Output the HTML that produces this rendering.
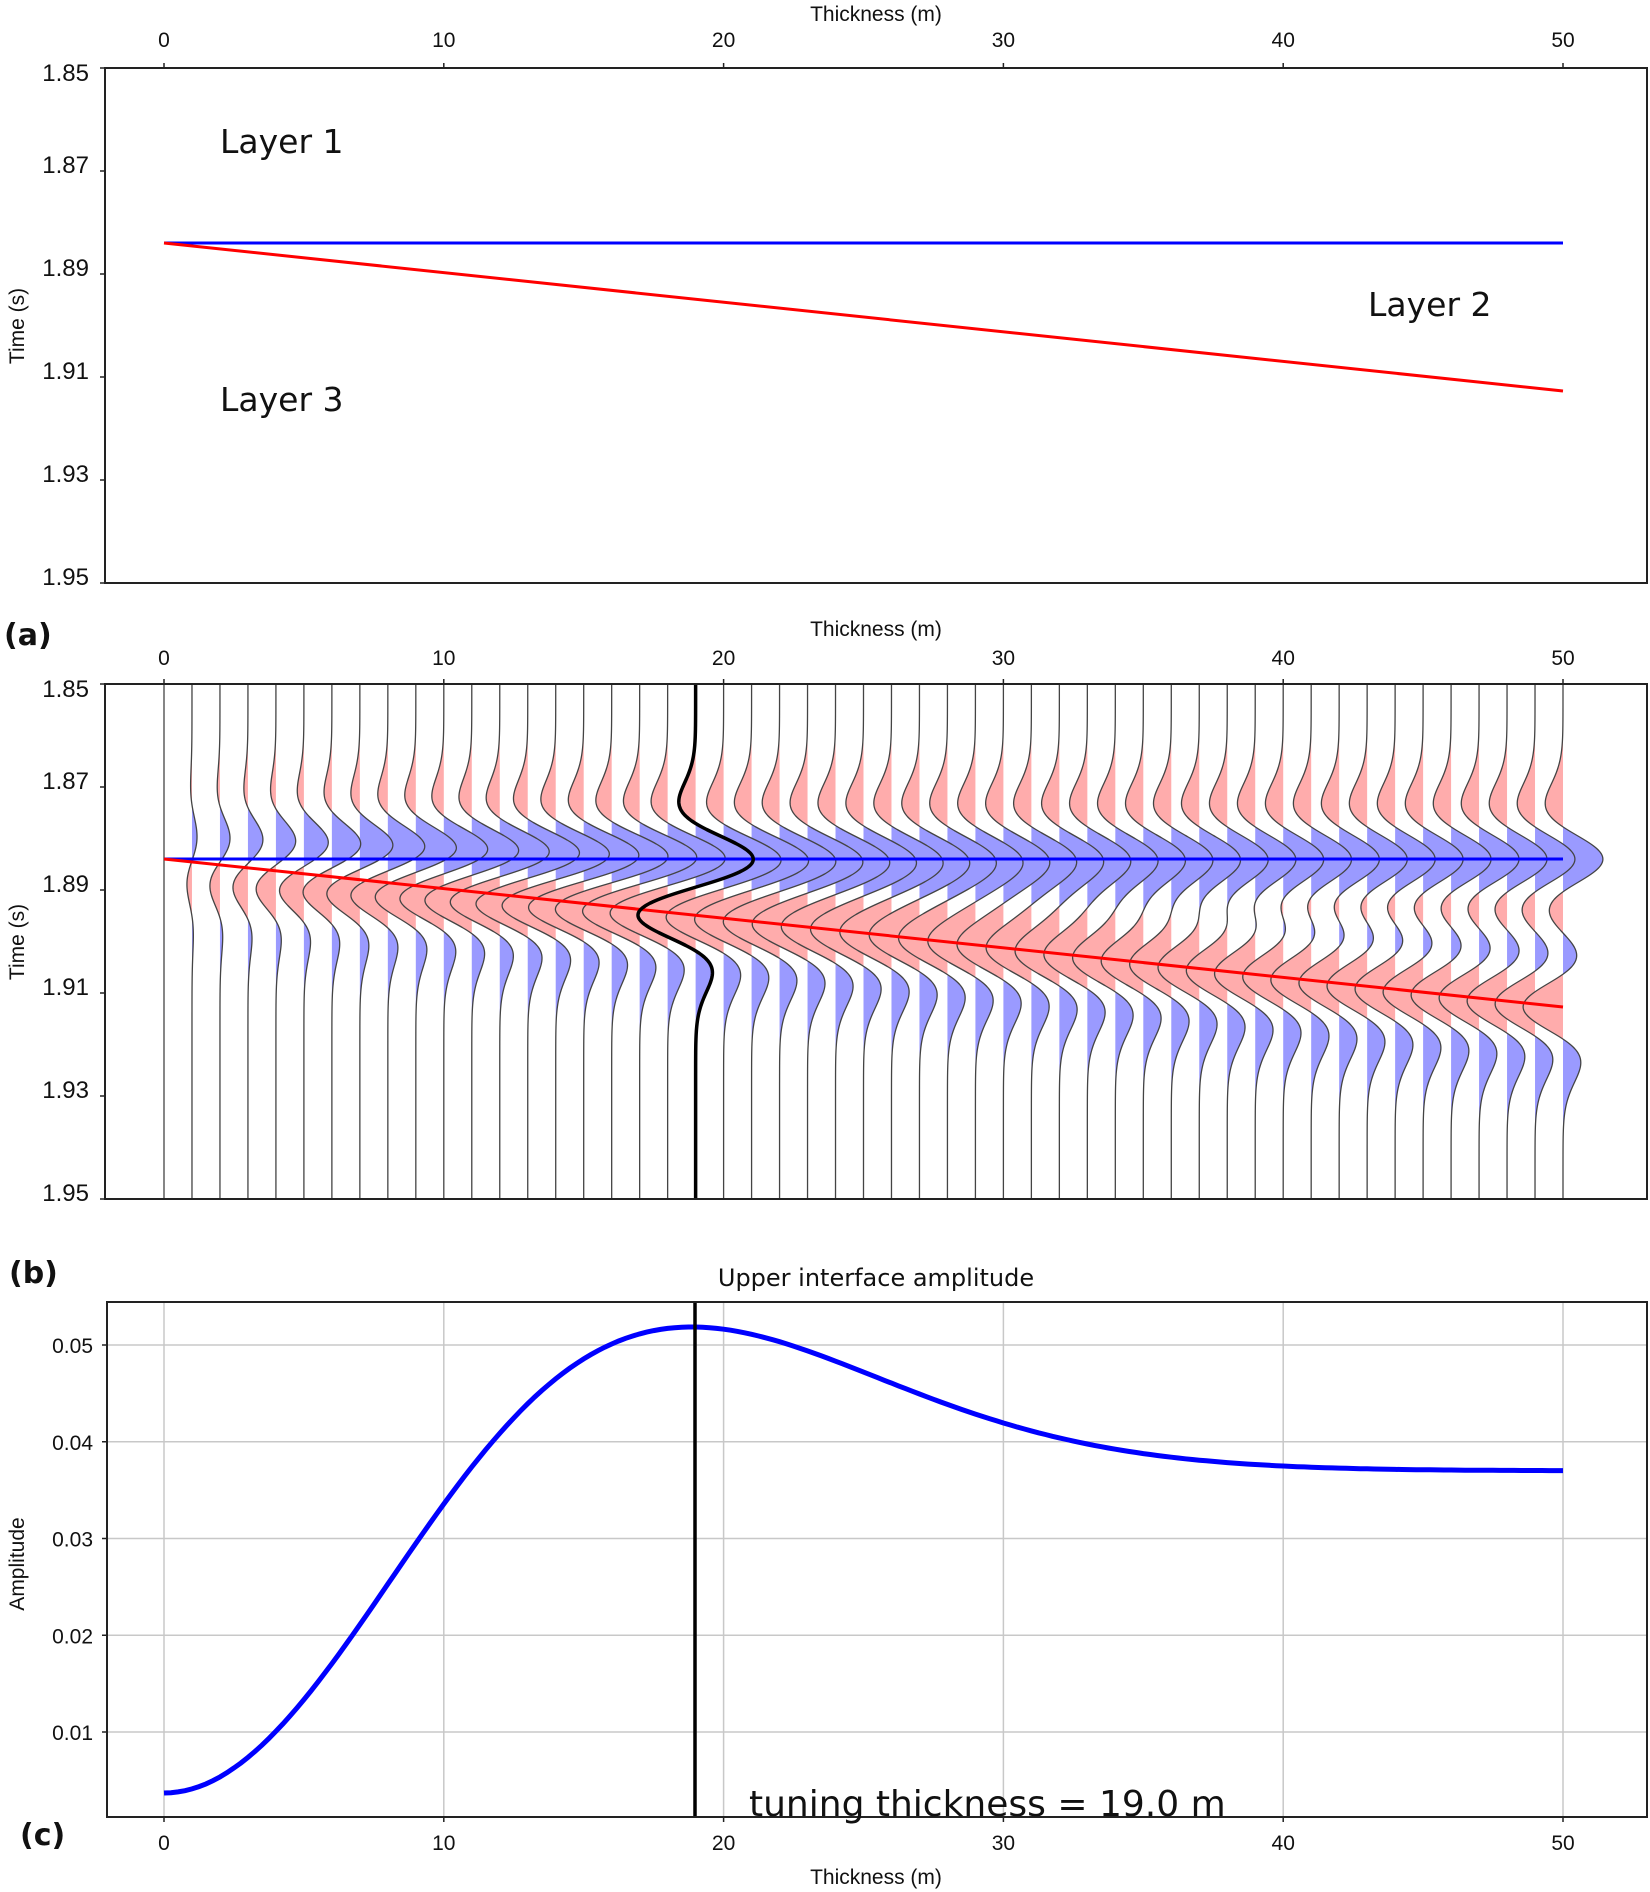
<!DOCTYPE html>
<html><head><meta charset="utf-8">
<style>
html,body{margin:0;padding:0;background:#fff;}
svg{display:block;font-family:"Liberation Sans","DejaVu Sans",sans-serif;}
.t{font-size:21px;fill:#111;}
.yl{font-size:24px;fill:#111;}
.b{font-family:"DejaVu Sans",sans-serif;font-weight:bold;font-size:30px;fill:#111;}
</style></head>
<body>
<svg id="s" width="1650" height="1892" viewBox="0 0 1650 1892" xmlns="http://www.w3.org/2000/svg">
<rect width="1650" height="1892" fill="#fff"/>
<g id="pa">
<text class="t" x="876" y="21" text-anchor="middle">Thickness (m)</text>
<rect x="105" y="68" width="1542" height="515" fill="none" stroke="#222" stroke-width="2"/>
<line x1="164" y1="243" x2="1563" y2="243" stroke="#0000ff" stroke-width="3"/>
<line x1="164" y1="243" x2="1563" y2="391" stroke="#ff0000" stroke-width="3"/>
<text x="220" y="153" style="font-family:'DejaVu Sans',sans-serif;font-size:33px" fill="#111">Layer 1</text>
<text x="1368" y="316" style="font-family:'DejaVu Sans',sans-serif;font-size:33px" fill="#111">Layer 2</text>
<text x="220" y="411" style="font-family:'DejaVu Sans',sans-serif;font-size:33px" fill="#111">Layer 3</text>
<text class="t" transform="translate(24,326) rotate(-90)" text-anchor="middle">Time (s)</text>
</g>
<text class="b" x="4" y="645">(a)</text>
<g id="pb">
<text class="t" x="876" y="636" text-anchor="middle">Thickness (m)</text>
<g id="fills"></g>
<g id="lines"></g>
<line x1="164" y1="859" x2="1563" y2="859" stroke="#0000ff" stroke-width="3"/>
<line x1="164" y1="859" x2="1563" y2="1007" stroke="#ff0000" stroke-width="3"/>
<g id="tune"></g>
<rect x="105" y="684" width="1542" height="515" fill="none" stroke="#222" stroke-width="2"/>
<text class="t" transform="translate(24,942) rotate(-90)" text-anchor="middle">Time (s)</text>
</g>
<text class="b" x="9" y="1283">(b)</text>
<g id="pc">
<text x="876" y="1286" text-anchor="middle" style="font-family:'DejaVu Sans',sans-serif;font-size:24px" fill="#111">Upper interface amplitude</text>
<g id="grid"></g>
<path id="amp" fill="none" stroke="#0000ff" stroke-width="5"/>
<line x1="695" y1="1302" x2="695" y2="1817" stroke="#000" stroke-width="3.5"/>
<rect x="107" y="1302" width="1540" height="515" fill="none" stroke="#222" stroke-width="2"/>
<text x="749" y="1816" style="font-family:'DejaVu Sans',sans-serif;font-size:36px" fill="#111">tuning thickness = 19.0 m</text>
<text class="t" transform="translate(24,1564) rotate(-90)" text-anchor="middle">Amplitude</text>
<text class="t" x="876" y="1884" text-anchor="middle">Thickness (m)</text>
</g>
<text class="b" x="20" y="1845">(c)</text>
<g id="ticks"></g>
</svg>
<script>
var NS="http://www.w3.org/2000/svg";
function el(p,n,a,txt){var e=document.createElementNS(NS,n);for(var k in a)e.setAttribute(k,a[k]);if(txt!==undefined)e.textContent=txt;p.appendChild(e);return e;}
var tk=document.getElementById('ticks');
function X(m){return 164+m*27.98;}
[[68,47],[684,665]].forEach(function(p){
 for(var i=0;i<=50;i+=10){el(tk,'line',{x1:X(i),x2:X(i),y1:p[0],y2:p[0]-5,stroke:'#222','stroke-width':1.5});
 el(tk,'text',{x:X(i),y:p[1],'text-anchor':'middle','class':'t'},String(i));}
});
[68,684].forEach(function(top){
 var labs=['1.85','1.87','1.89','1.91','1.93','1.95'];
 for(var i=0;i<6;i++){var y=top+i*103;
  el(tk,'line',{x1:105,x2:100,y1:y,y2:y,stroke:'#222','stroke-width':1.5});
  el(tk,'text',{x:89,y:y+(i==0?13:2),'text-anchor':'end','class':'yl'},labs[i]);}
});
var g=document.getElementById('grid');
function AY(a){return 1345+(0.05-a)*9675;}
for(var i=0;i<=50;i+=10){el(g,'line',{x1:X(i),x2:X(i),y1:1302,y2:1817,stroke:'#c8c8c8','stroke-width':1.5});
 el(tk,'line',{x1:X(i),x2:X(i),y1:1817,y2:1822,stroke:'#222','stroke-width':1.5});
 el(tk,'text',{x:X(i),y:1850,'text-anchor':'middle','class':'t'},String(i));}
for(var j=1;j<=5;j++){var a=j/100,y=AY(a);
 el(g,'line',{x1:107,x2:1647,y1:y,y2:y,stroke:'#c8c8c8','stroke-width':1.5});
 el(tk,'line',{x1:107,x2:102,y1:y,y2:y,stroke:'#222','stroke-width':1.5});
 el(tk,'text',{x:93,y:y+8,'text-anchor':'end','class':'t'},'0.0'+j);}
var f=36;
function ric(t){var u=Math.PI*f*t;u*=u;return (1-2*u)*Math.exp(-u);}
var t1=1.884,dtm=0.0287/50;
var d='';
for(var m=0;m<=50;m+=0.25){var dt=m*dtm;var a=0.0037+0.0333*(1-ric(dt));
 d+=(m==0?'M':'L')+X(m).toFixed(1)+','+AY(a).toFixed(1);}
document.getElementById('amp').setAttribute('d',d);
var fl=document.getElementById('fills'),ln=document.getElementById('lines'),tn=document.getElementById('tune');
var sc=1077;
for(var k=0;k<=50;k++){
 var x0=X(k),t2=t1+k*dtm,pts=[];
 for(var y=684;y<=1199;y+=1){var t=1.85+(y-684)/5150;
  var s=0.037*ric(t-t1)-0.037*ric(t-t2);pts.push([x0+s*sc,y]);}
 var pos='M'+x0+',684',neg='M'+x0+',684',line='';
 pts.forEach(function(p,i){
  pos+='L'+Math.max(p[0],x0).toFixed(2)+','+p[1];
  neg+='L'+Math.min(p[0],x0).toFixed(2)+','+p[1];
  line+=(i?'L':'M')+p[0].toFixed(2)+','+p[1];});
 pos+='L'+x0+',1199Z';neg+='L'+x0+',1199Z';
 el(fl,'path',{d:pos,fill:'#9a9aff',stroke:'none'});
 el(fl,'path',{d:neg,fill:'#ffacac',stroke:'none'});
 if(k==19) el(tn,'path',{d:line,fill:'none',stroke:'#000','stroke-width':3.5});
 else el(ln,'path',{d:line,fill:'none',stroke:'#444','stroke-width':1.3});
}
</script>
</body></html>
